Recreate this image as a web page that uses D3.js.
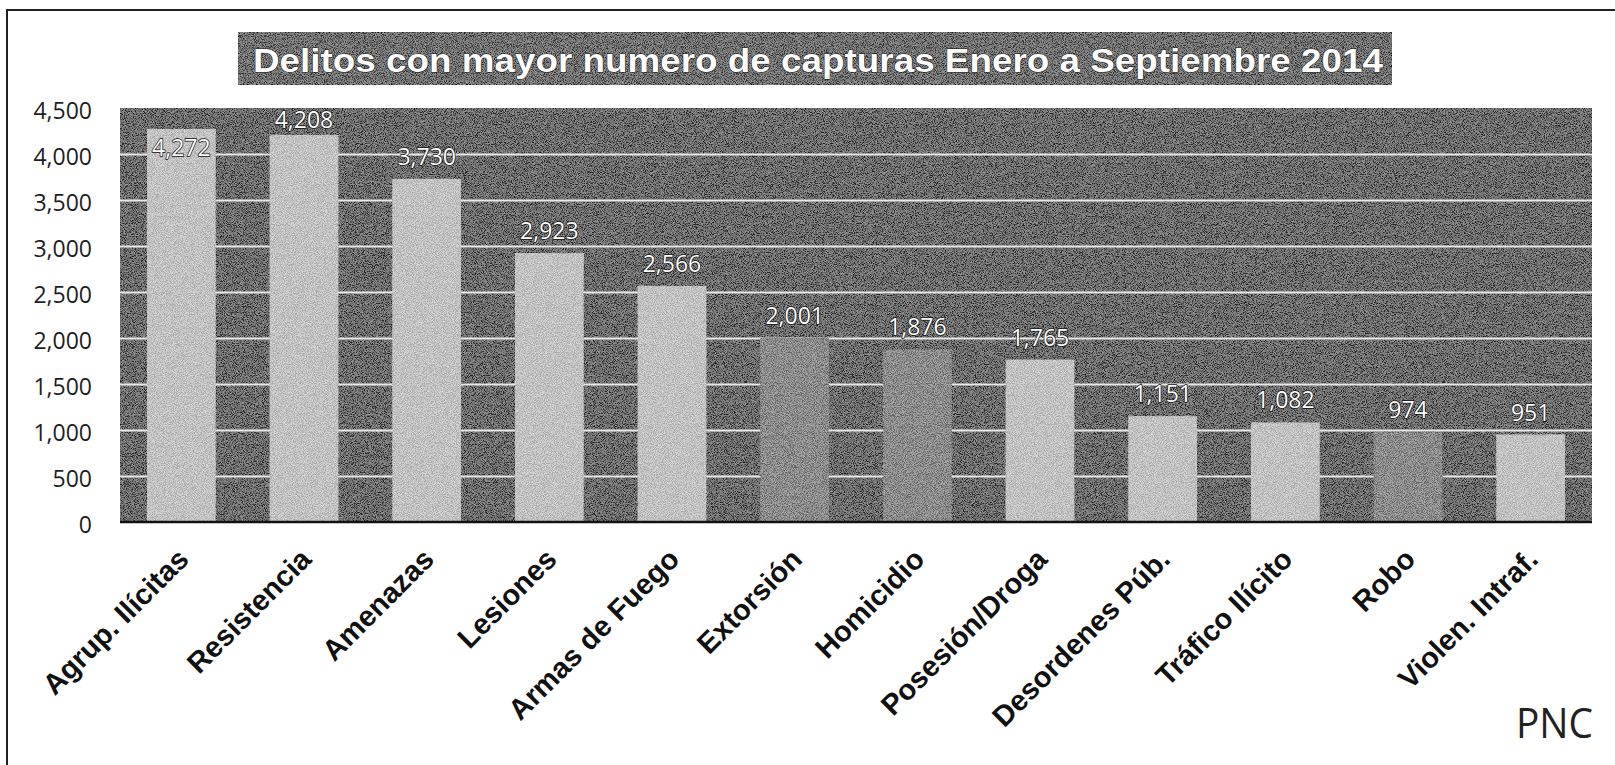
<!DOCTYPE html>
<html>
<head>
<meta charset="utf-8">
<script src="https://d3js.org/d3.v7.min.js"></script>
<style>
    body { margin: 0; background: #fff; }
    svg { display: block; }
</style>
</head>
<body>
<div id="chart"></div>
<script>
// datos PNC
let categorias = ["Agrup. Ilícitas", "Resistencia", "Amenazas", "Lesiones", "Armas de Fuego", "Extorsión",
    "Homicidio", "Posesión/Droga", "Desordenes Púb.", "Tráfico Ilícito", "Robo", "Violen. Intraf."]
let capturas = [4272, 4208, 3730, 2923, 2566, 2001, 1876, 1765, 1151, 1082, 974, 951]
let ticksY = [0, 500, 1000, 1500, 2000, 2500, 3000, 3500, 4000, 4500]
let oscuras = ["Extorsión", "Homicidio", "Robo"]
let titulo = "Delitos con mayor numero de capturas Enero a Septiembre 2014"
let fuente = "PNC"

let width = 1615
let height = 765
let plot = { left: 120, right: 1592, top: 108, bottom: 522 }

let svg = d3.select("#chart")
    .append("svg")
    .attr("width", width)
    .attr("height", height)

// grano de escaner
let filtro = svg.append("defs")
    .append("filter")
    .attr("id", "grano")
    .attr("x", 0).attr("y", 0)
    .attr("width", "100%").attr("height", "100%")

filtro.append("feTurbulence")
    .attr("type", "fractalNoise")
    .attr("baseFrequency", 1.1)
    .attr("numOctaves", 2)
    .attr("seed", 7)
    .attr("result", "ruido")
filtro.append("feColorMatrix")
    .attr("in", "ruido")
    .attr("type", "matrix")
    .attr("values", "3 0 0 0 -1  3 0 0 0 -1  3 0 0 0 -1  0 0 0 0 0.28")
    .attr("result", "motas")
filtro.append("feComposite")
    .attr("in", "motas")
    .attr("in2", "SourceGraphic")
    .attr("operator", "in")
    .attr("result", "motasDentro")
let merge = filtro.append("feMerge")
merge.append("feMergeNode").attr("in", "SourceGraphic")
merge.append("feMergeNode").attr("in", "motasDentro")

// marco del documento escaneado
svg.append("path")
    .attr("d", "M7,765 V10 H1615")
    .attr("fill", "none")
    .attr("stroke", "#222")
    .attr("stroke-width", 2)

let x = d3.scaleBand()
    .domain(categorias)
    .range([plot.left, plot.right])
    .paddingInner(0.44)
    .paddingOuter(0.22)

let y = d3.scaleLinear()
    .domain([0, 4500])
    .range([plot.bottom, plot.top])

let color = d3.scaleOrdinal()
    .domain(["clara", "oscura"])
    .range(["#c4c4c4", "#727272"])

// titulo
svg.append("rect")
    .attr("x", 238)
    .attr("y", 32)
    .attr("width", 1154)
    .attr("height", 53)
    .attr("fill", "#3a3a3a")
    .attr("stroke", "#1a1a1a")
    .attr("stroke-width", 1.5)
    .attr("filter", "url(#grano)")

svg.append("text")
    .attr("x", 253)
    .attr("y", 72)
    .attr("textLength", 1130)
    .attr("lengthAdjust", "spacingAndGlyphs")
    .style("font-family", "'Liberation Sans', Arial, sans-serif")
    .style("font-weight", "bold")
    .style("font-size", "33px")
    .style("fill", "#fff")
    .style("stroke", "#1a1a1a")
    .style("stroke-width", "1px")
    .style("paint-order", "stroke")
    .text(titulo)

// area de grafico
svg.append("rect")
    .attr("x", plot.left)
    .attr("y", plot.top)
    .attr("width", plot.right - plot.left)
    .attr("height", plot.bottom - plot.top)
    .attr("fill", "#2c2c2c")
    .attr("stroke", "#1a1a1a")
    .attr("stroke-width", 1.5)
    .attr("filter", "url(#grano)")

let yAxis = d3.axisLeft(y)
    .tickValues(ticksY)
    .tickFormat(d3.format(","))
    .tickSize(-(plot.right - plot.left))

let gy = svg.append("g")
    .attr("class", "y axis")
    .attr("transform", "translate(" + plot.left + ",0)")
    .call(yAxis)

gy.select(".domain").remove()
gy.selectAll(".tick line")
    .attr("stroke", d => d == 0 || d == 4500 ? "none" : "#e8e8e8")
    .attr("stroke-width", 2)
gy.selectAll(".tick text")
    .attr("x", -28)
    .attr("dy", "0.45em")
    .style("font-family", "'Open Sans', sans-serif")
    .style("font-size", "23px")
    .style("fill", "#1e1e1e")

// barras
svg.append("g")
    .selectAll("rect")
    .data(capturas)
    .enter()
    .append("rect")
    .attr("x", (d, i) => x(categorias[i]))
    .attr("y", d => y(d))
    .attr("width", x.bandwidth())
    .attr("height", d => y(0) - y(d))
    .attr("fill", (d, i) => color(oscuras.includes(categorias[i]) ? "oscura" : "clara"))
    .attr("filter", "url(#grano)")

// linea base
svg.append("line")
    .attr("x1", plot.left)
    .attr("x2", plot.right)
    .attr("y1", y(0))
    .attr("y2", y(0))
    .attr("stroke", "#111")
    .attr("stroke-width", 2.5)

// etiquetas de valores
svg.append("g")
    .selectAll("text")
    .data(capturas)
    .enter()
    .append("text")
    .attr("x", (d, i) => x(categorias[i]) + x.bandwidth() / 2)
    .attr("y", d => {
        let top = y(d)
        let base = top - 14
        if (base - 17 < plot.top - 4) base = plot.top + 20
        if (base > top - 3) base = top + 27
        return base
    })
    .attr("text-anchor", "middle")
    .style("font-family", "'Open Sans', sans-serif")
    .style("font-size", "23px")
    .style("fill", "#fff")
    .style("stroke", "#111")
    .style("stroke-width", "1.4px")
    .style("paint-order", "stroke")
    .text(d => d3.format(",")(d))

// categorias
svg.append("g")
    .selectAll("text")
    .data(categorias)
    .enter()
    .append("text")
    .attr("transform", d => "translate(" + (x(d) + x.bandwidth() / 2 + 9) + "," + 561 + ") rotate(-45)")
    .attr("text-anchor", "end")
    .style("font-family", "'Liberation Sans', Arial, sans-serif")
    .style("font-weight", "bold")
    .style("font-size", "29px")
    .style("fill", "#111")
    .text(d => d)

svg.append("text")
    .attr("x", 1593)
    .attr("y", 738)
    .attr("text-anchor", "end")
    .attr("textLength", 77)
    .attr("lengthAdjust", "spacingAndGlyphs")
    .style("font-family", "'Open Sans', sans-serif")
    .style("font-size", "42px")
    .style("fill", "#222")
    .text(fuente)
</script>
</body>
</html>
